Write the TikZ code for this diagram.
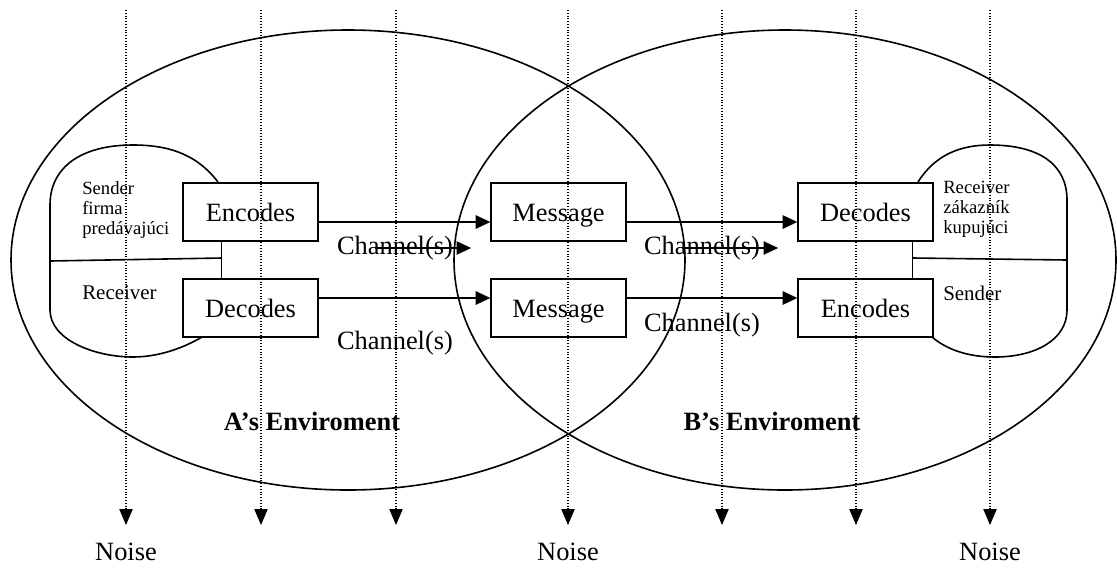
\documentclass[tikz,border=0pt]{standalone}
\usepackage{fontspec}
\setmainfont{Liberation Serif}
\usetikzlibrary{arrows.meta}

\begin{document}
\begin{tikzpicture}[x=0.75pt, y=-0.75pt,
    box/.style={draw, line width=1.2pt, fill=white, minimum width=101pt, minimum height=43.5pt, inner sep=0pt, text height=13.5pt, text depth=0pt, font=\fontsize{19.8}{22}\selectfont},
    bigtext/.style={inner sep=0pt, font=\fontsize{19.8}{22}\selectfont},
    envtext/.style={inner sep=0pt, font=\fontsize{19.8}{22}\selectfont\bfseries},
    smalltext/.style={inner sep=0pt, align=left, anchor=west, font=\fontsize{14}{15}\selectfont},
    roletext/.style={inner sep=0pt, anchor=west, font=\fontsize{15.7}{17}\selectfont},
    flow/.style={line width=1.2pt, -{Triangle[length=11pt, width=10pt]}},
    noise/.style={line width=0.8pt, dash pattern=on 0.8pt off 1.3pt, -{Triangle[length=12pt, width=10pt]}}]
    \useasboundingbox (0,0) rectangle (1117,569);

    % Sender / receiver blobs
    \draw[line width=1.2pt] (218,182) .. controls (195,152) and (165,145) .. (133,145)
        .. controls (80,145) and (50,168) .. (50,205) -- (50,310)
        .. controls (50,340) and (95,357) .. (133,357)
        .. controls (160,357) and (185,347) .. (202,337);
    \draw[line width=1.2pt] (918,182) .. controls (935,155) and (960,145) .. (990,145)
        .. controls (1040,145) and (1067,165) .. (1067,200) -- (1067,310)
        .. controls (1067,340) and (1035,357) .. (995,357)
        .. controls (965,357) and (945,348) .. (932,337);
    \draw[line width=1.2pt] (50,261) -- (222,258);
    \draw[line width=1.2pt] (913,258) -- (1067,260);

    % Environments
    \draw[line width=1.2pt] (348,260) ellipse [x radius=337, y radius=230];
    \draw[line width=1.2pt] (785,260) ellipse [x radius=331, y radius=230];

    % Boxes
    \node[box] (encL) at (250.5,212) {Encodes};
    \node[box] (decL) at (250.5,308) {Decodes};
    \node[box] (msgA) at (558.5,212) {Message};
    \node[box] (msgB) at (558.5,308) {Message};
    \node[box] (decR) at (865.5,212) {Decodes};
    \node[box] (encR) at (865.5,308) {Encodes};
    \draw[line width=1.2pt] (encL.south west) ++(39,0) coordinate (jL) -- (jL |- decL.north);
    \draw[line width=1.2pt] (decR.south west) ++(115,0) coordinate (jR) -- (jR |- encR.north);

    % Blob labels
    \node[smalltext] (sendL) at (82,210) {Sender\\firma\\predávajúci};
    \node[roletext] (recvL) at (82,293) {Receiver};
    \node[smalltext] (recvR) at (943,209) {Receiver\\zákazník\\kupujúci};
    \node[roletext] (sendR) at (943,293) {Sender};

    % Channels
    \draw[flow] ([yshift=-7.5pt]encL.east) -- ([yshift=-7.5pt]msgA.west);
    \draw[flow] ([yshift=-7.5pt]msgA.east) -- ([yshift=-7.5pt]decR.west);
    \draw[flow] ([yshift=7.5pt]decL.east) -- ([yshift=7.5pt]msgB.west);
    \draw[flow] ([yshift=7.5pt]msgB.east) -- ([yshift=7.5pt]encR.west);
    \node[bigtext] (chanA) at (395,248) {Channel(s)};
    \node[bigtext] (chanB) at (702,248) {Channel(s)};
    \node[bigtext] (chanC) at (395,343) {Channel(s)};
    \node[bigtext] (chanD) at (702,325) {Channel(s)};
    \draw[flow] ([xshift=-15pt]chanA.center) -- ([xshift=13.5pt]chanA.east);
    \draw[flow] ([xshift=-15pt]chanB.center) -- ([xshift=13.5pt]chanB.east);

    \node[envtext] (envA) at (312,421) {A’s Enviroment};
    \node[envtext] (envB) at (772,421) {B’s Enviroment};

    % Noise
    \foreach \x [count=\i] in {126,261,396,568,722,856,990} {
        \coordinate (ntop\i) at (\x,10);
        \coordinate (ntip\i) at (\x,525);
        \draw[noise] (ntop\i) -- (ntip\i);
    }
    \node[bigtext] (noise1) at (126,552) {Noise};
    \node[bigtext] (noise4) at (568,552) {Noise};
    \node[bigtext] (noise7) at (990,552) {Noise};
\end{tikzpicture}
\end{document}
